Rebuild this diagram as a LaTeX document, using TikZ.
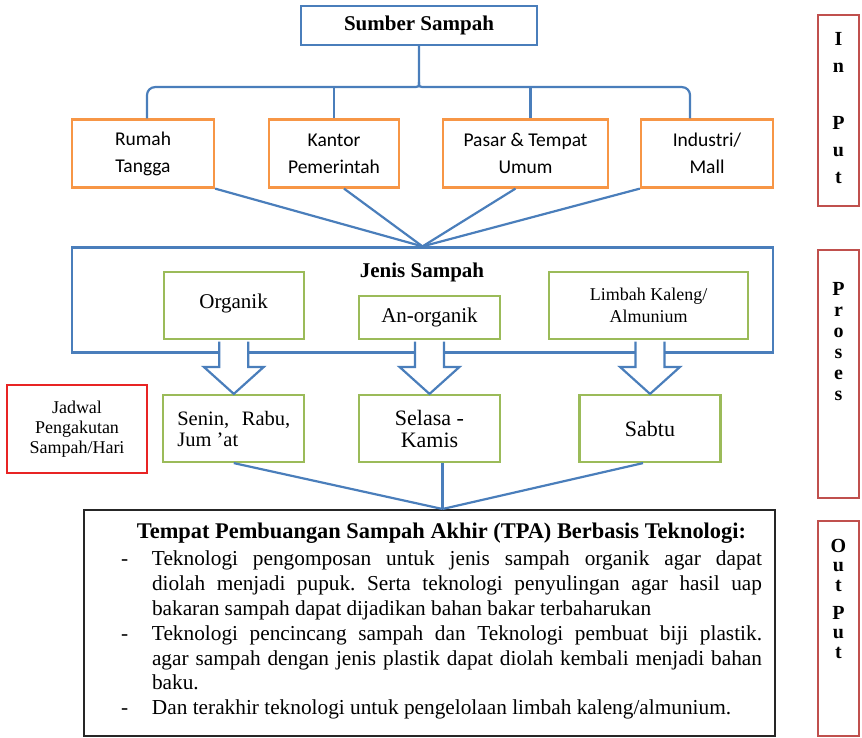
\documentclass[tikz,border=0pt]{standalone}
\usepackage{fontspec}
\setmainfont{Liberation Serif}
\newfontfamily\calibri{Carlito}
\usetikzlibrary{calc}

\definecolor{linkblue}{RGB}{74,126,187}
\definecolor{srcorange}{RGB}{247,150,70}
\definecolor{typegreen}{RGB}{155,187,89}
\definecolor{stagered}{RGB}{192,80,77}
\definecolor{planred}{RGB}{232,36,36}

\newcommand{\tpaitem}{\par\hangindent=31pt\hangafter=0\noindent\llap{\makebox[31pt][l]{-}}}

\begin{document}
\begin{tikzpicture}[x=1pt, y=-1pt,
    box/.style={draw, line width=2.2pt, inner sep=0pt, align=center},
    srcbox/.style={box, draw=srcorange, minimum height=68pt, font=\calibri\fontsize{19.5}{27}\selectfont},
    typebox/.style={box, draw=typegreen, minimum height=67pt, font=\fontsize{21}{22}\selectfont},
    stagebox/.style={box, draw=stagered, minimum width=41pt, line width=2pt},
    stagetext/.style={anchor=north, align=center, inner sep=0pt, font=\bfseries\fontsize{20}{21}\selectfont},
    link/.style={draw=linkblue, line width=2.2pt},
    blockarrow/.style={draw=linkblue, fill=white, line width=2.2pt, line join=miter},
]
    \useasboundingbox (0,0) rectangle (862,738);

    \node[box, draw=linkblue, minimum width=236pt, minimum height=39pt, font=\bfseries\fontsize{21}{24}\selectfont] at (419,25.5) (src) {Sumber Sampah};
    \node[srcbox, minimum width=142pt] at (143,153.5) (rt) {Rumah\\Tangga};
    \node[srcbox, minimum width=130pt] at (334,153.5) (kp) {Kantor\\Pemerintah};
    \node[srcbox, minimum width=165pt] at (525.5,153.5) (ps) {Pasar \& Tempat\\Umum};
    \node[srcbox, minimum width=132pt] at (707,153.5) (ind) {Industri/\\Mall};

    \node[box, draw=linkblue, minimum width=701pt, minimum height=105pt] at (422.5,300) (jenis) {};
    \node[inner sep=0pt, font=\bfseries\fontsize{21}{24}\selectfont] at (422,272) (jenislbl) {Jenis Sampah};
    \node[typebox, minimum width=140pt, text depth=8pt] at (233.6,305.5) (og) {Organik};
    \node[typebox, minimum width=141pt, minimum height=43pt] at (429.5,317.5) (ao) {An-organik};
    \node[typebox, minimum width=199pt, font=\fontsize{18}{22}\selectfont] at (648.5,305.5) (lk) {Limbah Kaleng/\\Almunium};

    \node[box, draw=planred, minimum width=140pt, minimum height=88pt, font=\fontsize{18}{20}\selectfont] at (77,429) (jd) {Jadwal\\Pengakutan\\Sampah/Hari};
    \node[typebox, minimum width=141pt, text width=113pt, align=justify, font=\fontsize{20.5}{21}\selectfont] at (233.8,428.5) (sr) {Senin, Rabu,\linebreak Jum 'at};
    \node[typebox, minimum width=141pt, font=\fontsize{22}{22}\selectfont] at (429.5,428.5) (sk) {Selasa -\\Kamis};
    \node[typebox, minimum width=141pt, font=\fontsize{22}{22}\selectfont] at (650,428.5) (sb) {Sabtu};

    \node[box, draw=black!85, line width=2pt, minimum width=691pt, minimum height=226pt] at (429.5,623) (tpa) {};
    \node[anchor=north, inner sep=0pt, text width=641pt, align=justify, font=\fontsize{21.3}{24.8}\selectfont] at (441.5,523) (tpatxt) {\tolerance=10000\frenchspacing
        \noindent\makebox[\hsize]{\bfseries\fontsize{22.4}{24.8}\selectfont Tempat Pembuangan Sampah Akhir (TPA) Berbasis Teknologi:}\par\vspace{2.4pt}
        \tpaitem Teknologi pengomposan untuk jenis sampah organik agar dapat\linebreak diolah menjadi pupuk. Serta teknologi penyulingan agar hasil uap\linebreak bakaran sampah dapat dijadikan bahan bakar terbaharukan
        \tpaitem Teknologi pencincang sampah dan Teknologi pembuat biji plastik.\linebreak agar sampah dengan jenis plastik dapat diolah kembali menjadi bahan\linebreak baku.
        \tpaitem Dan terakhir teknologi untuk pengelolaan limbah kaleng/almunium.\par};

    \node[stagebox, minimum height=191pt] at (838.5,110.5) (inp) {};
    \node[stagetext, font=\bfseries\fontsize{20}{27}\selectfont] at (838.5,32) (inptxt) {I\\n\\[30pt]P\\u\\t};
    \node[stagebox, minimum height=248pt] at (838.5,374) (pro) {};
    \node[stagetext] at (838.5,282) (protxt) {P\\r\\o\\s\\e\\s};
    \node[stagebox, minimum height=215pt] at (838.5,628.5) (out) {};
    \node[stagetext, font=\bfseries\fontsize{20}{19.5}\selectfont] at (838.5,539) (outtxt) {O\\u\\t\\[8.5pt]P\\u\\t};

    \coordinate (cusp) at ($(src.south)+(0,36)$);
    \coordinate (bar) at ($(cusp)+(0,5)$);
    \draw[link] (src.south) -- (cusp) .. controls (bar) .. ($(bar)+(-8,0)$) [rounded corners=8pt] -| ($(rt.north)+(4,0)$);
    \draw[link] (cusp) .. controls (bar) .. ($(bar)+(8,0)$) [rounded corners=8pt] -| ($(ind.north)+(-17,0)$);
    \draw[link] (kp.north) -- (kp.north |- bar);
    \draw[link] ($(ps.north)+(5,0)$) -- ($(ps.north |- bar)+(5,0)$);

    \draw[link] (rt.south east) -- (jenis.north);
    \draw[link] ($(kp.south)+(10,0)$) -- (jenis.north);
    \draw[link] ($(ps.south)+(-10,0)$) -- (jenis.north);
    \draw[link] (ind.south west) -- (jenis.north);

    \foreach \a/\b in {og/sr, ao/sk, lk/sb}
        \draw[blockarrow] ($(\a.south -| \b.north)+(-14.5,1.5)$) -- ($(\b.north)+(-14.5,-27)$) -- ($(\b.north)+(-30,-27)$) -- (\b.north) -- ($(\b.north)+(30,-27)$) -- ($(\b.north)+(14.5,-27)$) -- ($(\a.south -| \b.north)+(14.5,1.5)$);

    \coordinate (tpain) at ($(tpa.north)+(13,0)$);
    \draw[link] (sr.south) -- (tpain);
    \draw[link] ($(sk.south)+(13,0)$) -- (tpain);
    \draw[link] ($(sb.south)+(-7,0)$) -- (tpain);
\end{tikzpicture}
\end{document}
